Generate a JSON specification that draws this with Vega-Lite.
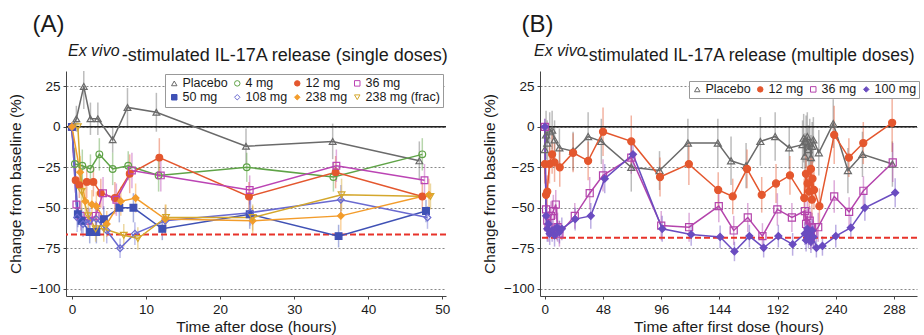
{
"$schema": "https://vega.github.io/schema/vega-lite/v6.json",
"background": "white",
"padding": {"left": 8, "right": 0, "top": 12, "bottom": 2},
"spacing": 32,
"resolve": {
  "scale": {"x": "independent", "y": "independent", "color": "independent", "stroke": "independent", "fill": "independent", "shape": "independent"},
  "legend": {"color": "independent", "stroke": "independent", "fill": "independent", "shape": "independent"},
  "axis": {"x": "independent", "y": "independent"}
},
"config": {
  "view": {"stroke": null},
  "font": "Liberation Sans",
  "title": {"font": "Liberation Sans", "fontWeight": "normal", "color": "#1a1a1a"},
  "axis": {"domainColor": "#444", "tickColor": "#444", "labelFont": "Liberation Sans", "labelFontSize": 13.5, "labelColor": "#1a1a1a", "titleFont": "Liberation Sans", "titleFontSize": 15.5, "titleFontWeight": "normal", "titleColor": "#1a1a1a", "tickSize": 3, "labelPadding": 3},
  "axisY": {"grid": true, "gridDash": [2, 2], "gridColor": "#888", "titlePadding": 6},
  "axisX": {"grid": false, "titlePadding": 4},
  "legend": {"labelFont": "Liberation Sans", "labelColor": "#1a1a1a", "gridAlign": "each"}
},
"datasets": {
  "a": [
    {"s":"Placebo","h":0,"v":0,"e":3},{"s":"Placebo","h":0.6,"v":5,"e":8},{"s":"Placebo","h":1.6,"v":25,"e":14},{"s":"Placebo","h":2.5,"v":5,"e":10},{"s":"Placebo","h":3.5,"v":5,"e":10},{"s":"Placebo","h":5.5,"v":-8,"e":8},{"s":"Placebo","h":7.5,"v":12,"e":12},{"s":"Placebo","h":11.4,"v":9,"e":12},{"s":"Placebo","h":23.5,"v":-12,"e":11},{"s":"Placebo","h":35.2,"v":-9,"e":11},{"s":"Placebo","h":46.9,"v":-21,"e":12},
    {"s":"4 mg","h":0,"v":0,"e":2},{"s":"4 mg","h":0.4,"v":-23,"e":10},{"s":"4 mg","h":1.4,"v":-24,"e":10},{"s":"4 mg","h":2.5,"v":-26,"e":9},{"s":"4 mg","h":3.7,"v":-17,"e":10},{"s":"4 mg","h":5.5,"v":-26,"e":10},{"s":"4 mg","h":7.6,"v":-24,"e":9},{"s":"4 mg","h":11.7,"v":-30,"e":10},{"s":"4 mg","h":23.6,"v":-25,"e":9},{"s":"4 mg","h":35.3,"v":-31,"e":9},{"s":"4 mg","h":47.3,"v":-17,"e":10},
    {"s":"12 mg","h":0,"v":0,"e":2},{"s":"12 mg","h":0.5,"v":-33,"e":8},{"s":"12 mg","h":1,"v":-36,"e":8},{"s":"12 mg","h":2,"v":-34,"e":10},{"s":"12 mg","h":2.9,"v":-34,"e":9},{"s":"12 mg","h":3.9,"v":-41,"e":9},{"s":"12 mg","h":5.8,"v":-44,"e":10},{"s":"12 mg","h":7.8,"v":-29,"e":12},{"s":"12 mg","h":11.8,"v":-19,"e":12},{"s":"12 mg","h":23.9,"v":-43,"e":9},{"s":"12 mg","h":35.6,"v":-28,"e":10},{"s":"12 mg","h":47.3,"v":-43,"e":9},
    {"s":"36 mg","h":0,"v":0,"e":2},{"s":"36 mg","h":0.6,"v":-48,"e":10},{"s":"36 mg","h":1.2,"v":-55,"e":9},{"s":"36 mg","h":2.2,"v":-58,"e":8},{"s":"36 mg","h":3.2,"v":-55,"e":9},{"s":"36 mg","h":4.2,"v":-41,"e":10},{"s":"36 mg","h":6,"v":-45,"e":10},{"s":"36 mg","h":8.1,"v":-27,"e":11},{"s":"36 mg","h":12,"v":-30,"e":10},{"s":"36 mg","h":24,"v":-39,"e":9},{"s":"36 mg","h":35.7,"v":-24,"e":10},{"s":"36 mg","h":47.6,"v":-33,"e":10},
    {"s":"50 mg","h":0,"v":0,"e":2},{"s":"50 mg","h":0.8,"v":-54,"e":8},{"s":"50 mg","h":1.3,"v":-58,"e":8},{"s":"50 mg","h":2.4,"v":-65,"e":7},{"s":"50 mg","h":3.3,"v":-65,"e":7},{"s":"50 mg","h":4.3,"v":-57,"e":8},{"s":"50 mg","h":6.4,"v":-50,"e":9},{"s":"50 mg","h":8.3,"v":-50,"e":9},{"s":"50 mg","h":12.2,"v":-63,"e":7},{"s":"50 mg","h":24,"v":-54,"e":9},{"s":"50 mg","h":36,"v":-67.5,"e":7},{"s":"50 mg","h":47.8,"v":-52,"e":7},
    {"s":"108 mg","h":0,"v":0,"e":2},{"s":"108 mg","h":0.7,"v":-56,"e":9},{"s":"108 mg","h":1.5,"v":-60,"e":8},{"s":"108 mg","h":2.4,"v":-58,"e":8},{"s":"108 mg","h":3.3,"v":-57,"e":8},{"s":"108 mg","h":4.7,"v":-64,"e":8},{"s":"108 mg","h":6.5,"v":-75,"e":6},{"s":"108 mg","h":8.5,"v":-66,"e":7},{"s":"108 mg","h":12.6,"v":-58,"e":8},{"s":"108 mg","h":24.1,"v":-53,"e":8},{"s":"108 mg","h":36.3,"v":-45,"e":9},{"s":"108 mg","h":48,"v":-56,"e":7},
    {"s":"238 mg","h":0,"v":0,"e":3},{"s":"238 mg","h":1.1,"v":-28,"e":10},{"s":"238 mg","h":1.8,"v":-46,"e":10},{"s":"238 mg","h":2.7,"v":-48,"e":9},{"s":"238 mg","h":3.3,"v":-49,"e":9},{"s":"238 mg","h":4.7,"v":-60,"e":8},{"s":"238 mg","h":6.6,"v":-46,"e":9},{"s":"238 mg","h":8.6,"v":-44,"e":9},{"s":"238 mg","h":12.6,"v":-57,"e":9},{"s":"238 mg","h":24.4,"v":-58,"e":9},{"s":"238 mg","h":36.3,"v":-55,"e":9},{"s":"238 mg","h":48.2,"v":-42,"e":10},
    {"s":"238 mg (frac)","h":0.8,"v":0,"e":3},{"s":"238 mg (frac)","h":1.3,"v":-40,"e":12},{"s":"238 mg (frac)","h":2.2,"v":-55,"e":10},{"s":"238 mg (frac)","h":3.2,"v":-63,"e":8},{"s":"238 mg (frac)","h":4.3,"v":-63,"e":8},{"s":"238 mg (frac)","h":7,"v":-67,"e":7},{"s":"238 mg (frac)","h":8.9,"v":-69,"e":7},{"s":"238 mg (frac)","h":12.7,"v":-56,"e":8},{"s":"238 mg (frac)","h":24.4,"v":-56,"e":8},{"s":"238 mg (frac)","h":36.4,"v":-42,"e":10},{"s":"238 mg (frac)","h":48.4,"v":-43,"e":8}
  ],
  "b": [
    {"s":"Placebo","h":0,"v":-14,"e":15},{"s":"Placebo","h":1,"v":-5,"e":15},{"s":"Placebo","h":2,"v":-10,"e":14},{"s":"Placebo","h":4,"v":-3,"e":12},{"s":"Placebo","h":6,"v":-2,"e":12},{"s":"Placebo","h":8,"v":-8,"e":12},{"s":"Placebo","h":12,"v":-13,"e":12},{"s":"Placebo","h":23.3,"v":-15,"e":12},{"s":"Placebo","h":35.7,"v":-6,"e":15},{"s":"Placebo","h":46.6,"v":-9,"e":14},{"s":"Placebo","h":71.3,"v":-25,"e":15},{"s":"Placebo","h":94.6,"v":-27,"e":12},{"s":"Placebo","h":118,"v":-10,"e":15},{"s":"Placebo","h":142.7,"v":-10,"e":15},{"s":"Placebo","h":153.6,"v":-21,"e":15},{"s":"Placebo","h":166,"v":-24,"e":14},{"s":"Placebo","h":177.8,"v":-9,"e":15},{"s":"Placebo","h":190,"v":-6,"e":15},{"s":"Placebo","h":201.6,"v":-13,"e":13},{"s":"Placebo","h":212.6,"v":-11,"e":15},{"s":"Placebo","h":213.5,"v":-7,"e":15},{"s":"Placebo","h":214.5,"v":-18,"e":14},{"s":"Placebo","h":215.5,"v":-9,"e":16},{"s":"Placebo","h":216.5,"v":-6,"e":15},{"s":"Placebo","h":217.5,"v":-14,"e":15},{"s":"Placebo","h":218.5,"v":-10,"e":15},{"s":"Placebo","h":219.5,"v":-19,"e":14},{"s":"Placebo","h":220.5,"v":-12,"e":15},{"s":"Placebo","h":221.5,"v":-8,"e":14},{"s":"Placebo","h":226,"v":-16,"e":14},{"s":"Placebo","h":237.9,"v":2,"e":15},{"s":"Placebo","h":250,"v":-27,"e":14},{"s":"Placebo","h":262,"v":-17,"e":14},{"s":"Placebo","h":286.7,"v":-23,"e":14},
    {"s":"12 mg","h":0,"v":-23,"e":12},{"s":"12 mg","h":1,"v":-42,"e":10},{"s":"12 mg","h":2,"v":-40,"e":10},{"s":"12 mg","h":3.8,"v":-23,"e":12},{"s":"12 mg","h":6,"v":-17,"e":12},{"s":"12 mg","h":8,"v":-22,"e":12},{"s":"12 mg","h":12.3,"v":-25,"e":12},{"s":"12 mg","h":23.3,"v":-16,"e":12},{"s":"12 mg","h":35.7,"v":-21,"e":12},{"s":"12 mg","h":48,"v":-3,"e":15},{"s":"12 mg","h":71.3,"v":-9,"e":16},{"s":"12 mg","h":95,"v":-31,"e":12},{"s":"12 mg","h":118.8,"v":-23,"e":13},{"s":"12 mg","h":143,"v":-39,"e":11},{"s":"12 mg","h":155,"v":-43,"e":11},{"s":"12 mg","h":166.8,"v":-26,"e":12},{"s":"12 mg","h":178.9,"v":-42,"e":11},{"s":"12 mg","h":190.7,"v":-35,"e":12},{"s":"12 mg","h":202.2,"v":-30,"e":12},{"s":"12 mg","h":214,"v":-44,"e":12},{"s":"12 mg","h":215.4,"v":-29,"e":12},{"s":"12 mg","h":216.7,"v":-35,"e":11},{"s":"12 mg","h":218,"v":-40,"e":11},{"s":"12 mg","h":219.5,"v":-26,"e":12},{"s":"12 mg","h":220.3,"v":-45,"e":11},{"s":"12 mg","h":220.8,"v":-32,"e":12},{"s":"12 mg","h":222,"v":-39,"e":12},{"s":"12 mg","h":226.5,"v":-49,"e":11},{"s":"12 mg","h":238.7,"v":-5,"e":18},{"s":"12 mg","h":250.8,"v":-19,"e":12},{"s":"12 mg","h":262.7,"v":-10,"e":13},{"s":"12 mg","h":286.5,"v":2.5,"e":18},
    {"s":"36 mg","h":0,"v":0,"e":5},{"s":"36 mg","h":1,"v":-51,"e":10},{"s":"36 mg","h":2,"v":-58,"e":10},{"s":"36 mg","h":3,"v":-62,"e":9},{"s":"36 mg","h":5,"v":-55,"e":9},{"s":"36 mg","h":7,"v":-52,"e":10},{"s":"36 mg","h":9,"v":-48,"e":9},{"s":"36 mg","h":10.5,"v":-62,"e":9},{"s":"36 mg","h":12,"v":-66,"e":8},{"s":"36 mg","h":24.7,"v":-55,"e":8},{"s":"36 mg","h":37,"v":-41,"e":10},{"s":"36 mg","h":48,"v":-30,"e":10},{"s":"36 mg","h":71.3,"v":-19,"e":10},{"s":"36 mg","h":96,"v":-61,"e":9},{"s":"36 mg","h":119,"v":-62,"e":9},{"s":"36 mg","h":143.5,"v":-49,"e":10},{"s":"36 mg","h":155.8,"v":-64,"e":9},{"s":"36 mg","h":167.4,"v":-56,"e":9},{"s":"36 mg","h":179.5,"v":-67.5,"e":8},{"s":"36 mg","h":191.8,"v":-51,"e":10},{"s":"36 mg","h":203.8,"v":-56,"e":9},{"s":"36 mg","h":214.5,"v":-52,"e":9},{"s":"36 mg","h":215.5,"v":-60,"e":9},{"s":"36 mg","h":216.5,"v":-55,"e":9},{"s":"36 mg","h":217.5,"v":-65,"e":8},{"s":"36 mg","h":218.5,"v":-58,"e":9},{"s":"36 mg","h":219.5,"v":-68,"e":8},{"s":"36 mg","h":220.5,"v":-62,"e":9},{"s":"36 mg","h":221.5,"v":-66,"e":8},{"s":"36 mg","h":225.5,"v":-62,"e":9},{"s":"36 mg","h":238.7,"v":-43,"e":10},{"s":"36 mg","h":251,"v":-52.5,"e":9},{"s":"36 mg","h":262.8,"v":-39.5,"e":9},{"s":"36 mg","h":287,"v":-22,"e":12},
    {"s":"100 mg","h":0,"v":0,"e":5},{"s":"100 mg","h":1,"v":-55,"e":9},{"s":"100 mg","h":2,"v":-63,"e":8},{"s":"100 mg","h":3,"v":-60,"e":8},{"s":"100 mg","h":4,"v":-66,"e":7},{"s":"100 mg","h":6,"v":-64,"e":7},{"s":"100 mg","h":8,"v":-67,"e":7},{"s":"100 mg","h":10,"v":-62,"e":8},{"s":"100 mg","h":12,"v":-65,"e":7},{"s":"100 mg","h":14,"v":-63,"e":7},{"s":"100 mg","h":25,"v":-57,"e":7},{"s":"100 mg","h":37.9,"v":-55,"e":8},{"s":"100 mg","h":49.4,"v":-32,"e":9},{"s":"100 mg","h":72.7,"v":-17,"e":10},{"s":"100 mg","h":96.8,"v":-63,"e":8},{"s":"100 mg","h":120.7,"v":-66.5,"e":7},{"s":"100 mg","h":144.6,"v":-68,"e":7},{"s":"100 mg","h":156.4,"v":-77,"e":6},{"s":"100 mg","h":168.7,"v":-67.5,"e":7},{"s":"100 mg","h":180.5,"v":-74.7,"e":6},{"s":"100 mg","h":192.6,"v":-67.5,"e":7},{"s":"100 mg","h":204.4,"v":-72.6,"e":7},{"s":"100 mg","h":214.5,"v":-66,"e":7},{"s":"100 mg","h":215.5,"v":-70,"e":7},{"s":"100 mg","h":216.5,"v":-63,"e":7},{"s":"100 mg","h":217.5,"v":-68,"e":7},{"s":"100 mg","h":218.5,"v":-65,"e":7},{"s":"100 mg","h":219.5,"v":-71,"e":7},{"s":"100 mg","h":220.5,"v":-64,"e":7},{"s":"100 mg","h":221.5,"v":-68,"e":7},{"s":"100 mg","h":224,"v":-74.7,"e":6},{"s":"100 mg","h":229,"v":-73.6,"e":6},{"s":"100 mg","h":240,"v":-67.5,"e":7},{"s":"100 mg","h":252.4,"v":-62.3,"e":7},{"s":"100 mg","h":264,"v":-50,"e":8},{"s":"100 mg","h":289,"v":-40.7,"e":9}
  ]
},
"hconcat": [
  {
    "title": {"text": "(A)", "anchor": "start", "fontSize": 24, "dx": 24, "dy": -2},
    "resolve": {"scale": {"color": "independent", "stroke": "independent", "fill": "independent", "shape": "independent"}, "legend": {"color": "independent", "stroke": "independent", "fill": "independent", "shape": "independent"}},
    "vconcat": [
      {
        "title": {"text": "-stimulated IL-17A release (single doses)", "anchor": "end", "fontSize": 18, "dy": 37, "dx": -2, "offset": 15},
        "resolve": {"scale": {"color": "independent", "stroke": "independent", "fill": "independent", "shape": "independent"}, "legend": {"color": "independent", "stroke": "independent", "fill": "independent", "shape": "independent"}},
        "vconcat": [
          {
            "title": {"text": "Ex vivo", "anchor": "start", "frame": "group", "fontStyle": "italic", "fontSize": 16, "dx": 2, "offset": 12.5},
            "width": 380, "height": 225,
            "layer": [
              {
                "data": {"name": "a"},
                "mark": {"type": "errorbar", "ticks": false, "clip": true, "rule": {"opacity": 0.45, "strokeWidth": 1.5}},
                "encoding": {
                  "x": {"field": "h", "type": "quantitative", "scale": {"domain": [-0.8, 50.5], "nice": false, "zero": false}, "axis": {"values": [0,5,10,15,20,25,30,35,40,45,50], "title": "Time after dose (hours)"}},
                  "y": {"field": "v", "type": "quantitative", "scale": {"domain": [-104.5, 34.5], "nice": false}, "axis": {"values": [-100,-75,-50,-25,0,25], "title": "Change from baseline (%)"}},
                  "yError": {"field": "e"},
                  "color": {"field": "s", "type": "nominal", "legend": null, "scale": {"domain": ["238 mg (frac)","238 mg","108 mg","50 mg","36 mg","12 mg","4 mg","Placebo"], "range": ["#d4a72c","#f39c2b","#6a6ad0","#3f51b5","#bb44b4","#e4572e","#5fa347","#6a6a6a"]}}
                }
              },
              {
                "data": {"values": [{"y": 0}]},
                "mark": {"type": "rule", "color": "#222222", "strokeWidth": 1.5},
                "encoding": {"y": {"field": "y", "type": "quantitative", "scale": {"domain": [-104.5, 34.5], "nice": false}}}
              },
              {
                "data": {"values": [{"y": -66.5}]},
                "mark": {"type": "rule", "color": "#e8332a", "strokeWidth": 1.8, "strokeDash": [6, 3]},
                "encoding": {"y": {"field": "y", "type": "quantitative", "scale": {"domain": [-104.5, 34.5], "nice": false}}}
              },
              {
                "data": {"name": "a"},
                "mark": {"type": "line", "strokeWidth": 1.5, "clip": true},
                "encoding": {
                  "x": {"field": "h", "type": "quantitative", "scale": {"domain": [-0.8, 50.5], "nice": false, "zero": false}},
                  "y": {"field": "v", "type": "quantitative", "scale": {"domain": [-104.5, 34.5], "nice": false}},
                  "color": {"field": "s", "type": "nominal", "legend": null}
                }
              },
              {
                "data": {"name": "a"},
                "mark": {"type": "point", "size": 45, "strokeWidth": 1.2, "opacity": 1, "clip": true},
                "encoding": {
                  "x": {"field": "h", "type": "quantitative", "scale": {"domain": [-0.8, 50.5], "nice": false, "zero": false}},
                  "y": {"field": "v", "type": "quantitative", "scale": {"domain": [-104.5, 34.5], "nice": false}},
                  "stroke": {"field": "s", "type": "nominal", "scale": {"domain": ["Placebo","4 mg","12 mg","36 mg","50 mg","108 mg","238 mg","238 mg (frac)"], "range": ["#6a6a6a","#5fa347","#e4572e","#bb44b4","#3f51b5","#6a6ad0","#f39c2b","#d4a72c"]},
                    "legend": {"title": null, "orient": "top-right", "offset": 3, "columns": 4, "direction": "horizontal", "gridAlign": "each", "strokeColor": "#999", "fillColor": "white", "padding": 3, "labelFontSize": 12.5, "symbolSize": 30, "columnPadding": 3, "rowPadding": 1, "symbolStrokeWidth": 1, "labelOffset": 2}},
                  "fill": {"field": "s", "type": "nominal", "scale": {"domain": ["Placebo","4 mg","12 mg","36 mg","50 mg","108 mg","238 mg","238 mg (frac)"], "range": ["transparent","transparent","#e4572e","transparent","#3f51b5","transparent","#f39c2b","transparent"]},
                    "legend": {"title": null, "orient": "top-right", "offset": 3, "columns": 4, "direction": "horizontal", "gridAlign": "each", "strokeColor": "#999", "fillColor": "white", "padding": 3, "labelFontSize": 12.5, "symbolSize": 30, "columnPadding": 3, "rowPadding": 1, "symbolStrokeWidth": 1, "labelOffset": 2}},
                  "shape": {"field": "s", "type": "nominal", "scale": {"domain": ["Placebo","4 mg","12 mg","36 mg","50 mg","108 mg","238 mg","238 mg (frac)"], "range": ["triangle-up","circle","circle","square","square","diamond","diamond","triangle-down"]},
                    "legend": {"title": null, "orient": "top-right", "offset": 3, "columns": 4, "direction": "horizontal", "gridAlign": "each", "strokeColor": "#999", "fillColor": "white", "padding": 3, "labelFontSize": 12.5, "symbolSize": 30, "columnPadding": 3, "rowPadding": 1, "symbolStrokeWidth": 1, "labelOffset": 2}}
                }
              }
            ]
          }
        ]
      }
    ]
  },
  {
    "title": {"text": "(B)", "anchor": "start", "fontSize": 24, "dx": 39, "dy": -2},
    "resolve": {"scale": {"color": "independent", "stroke": "independent", "fill": "independent", "shape": "independent"}, "legend": {"color": "independent", "stroke": "independent", "fill": "independent", "shape": "independent"}},
    "vconcat": [
      {
        "title": {"text": "-stimulated IL-17A release (multiple doses)", "anchor": "end", "fontSize": 17.5, "dy": 37, "dx": -5, "offset": 15},
        "resolve": {"scale": {"color": "independent", "stroke": "independent", "fill": "independent", "shape": "independent"}, "legend": {"color": "independent", "stroke": "independent", "fill": "independent", "shape": "independent"}},
        "vconcat": [
          {
            "title": {"text": "Ex vivo", "anchor": "start", "frame": "group", "fontStyle": "italic", "fontSize": 16, "dx": -6, "offset": 12.5},
            "width": 377, "height": 225,
            "layer": [
              {
                "data": {"name": "b"},
                "mark": {"type": "errorbar", "ticks": false, "clip": true, "rule": {"opacity": 0.45, "strokeWidth": 1.5}},
                "encoding": {
                  "x": {"field": "h", "type": "quantitative", "scale": {"domain": [-4, 307], "nice": false, "zero": false}, "axis": {"values": [0,48,96,144,192,240,288], "title": "Time after first dose (hours)"}},
                  "y": {"field": "v", "type": "quantitative", "scale": {"domain": [-104.5, 34.5], "nice": false}, "axis": {"values": [-100,-75,-50,-25,0,25], "title": "Change from baseline (%)"}},
                  "yError": {"field": "e"},
                  "color": {"field": "s", "type": "nominal", "legend": null, "scale": {"domain": ["100 mg","36 mg","12 mg","Placebo"], "range": ["#6a4cc0","#b444ac","#e4572e","#6a6a6a"]}}
                }
              },
              {
                "data": {"values": [{"y": 0}]},
                "mark": {"type": "rule", "color": "#222222", "strokeWidth": 1.5},
                "encoding": {"y": {"field": "y", "type": "quantitative", "scale": {"domain": [-104.5, 34.5], "nice": false}}}
              },
              {
                "data": {"values": [{"y": -68.5}]},
                "mark": {"type": "rule", "color": "#e8332a", "strokeWidth": 1.8, "strokeDash": [6, 3]},
                "encoding": {"y": {"field": "y", "type": "quantitative", "scale": {"domain": [-104.5, 34.5], "nice": false}}}
              },
              {
                "data": {"name": "b"},
                "mark": {"type": "line", "strokeWidth": 1.5, "clip": true},
                "encoding": {
                  "x": {"field": "h", "type": "quantitative", "scale": {"domain": [-4, 307], "nice": false, "zero": false}},
                  "y": {"field": "v", "type": "quantitative", "scale": {"domain": [-104.5, 34.5], "nice": false}},
                  "color": {"field": "s", "type": "nominal", "legend": null}
                }
              },
              {
                "data": {"name": "b"},
                "mark": {"type": "point", "size": 50, "strokeWidth": 1.2, "opacity": 1, "clip": true},
                "encoding": {
                  "x": {"field": "h", "type": "quantitative", "scale": {"domain": [-4, 307], "nice": false, "zero": false}},
                  "y": {"field": "v", "type": "quantitative", "scale": {"domain": [-104.5, 34.5], "nice": false}},
                  "stroke": {"field": "s", "type": "nominal", "scale": {"domain": ["Placebo","12 mg","36 mg","100 mg"], "range": ["#6a6a6a","#e4572e","#b444ac","#6a4cc0"]},
                    "legend": {"title": null, "orient": "none", "legendX": 149, "legendY": 10, "columns": 4, "direction": "horizontal", "gridAlign": "each", "strokeColor": "#999", "fillColor": "white", "padding": 2, "labelFontSize": 12.5, "symbolSize": 30, "columnPadding": 3, "symbolStrokeWidth": 1, "labelOffset": 2}},
                  "fill": {"field": "s", "type": "nominal", "scale": {"domain": ["Placebo","12 mg","36 mg","100 mg"], "range": ["transparent","#e4572e","transparent","#6a4cc0"]},
                    "legend": {"title": null, "orient": "none", "legendX": 149, "legendY": 10, "columns": 4, "direction": "horizontal", "gridAlign": "each", "strokeColor": "#999", "fillColor": "white", "padding": 2, "labelFontSize": 12.5, "symbolSize": 30, "columnPadding": 3, "symbolStrokeWidth": 1, "labelOffset": 2}},
                  "shape": {"field": "s", "type": "nominal", "scale": {"domain": ["Placebo","12 mg","36 mg","100 mg"], "range": ["triangle-up","circle","square","diamond"]},
                    "legend": {"title": null, "orient": "none", "legendX": 149, "legendY": 10, "columns": 4, "direction": "horizontal", "gridAlign": "each", "strokeColor": "#999", "fillColor": "white", "padding": 2, "labelFontSize": 12.5, "symbolSize": 30, "columnPadding": 3, "symbolStrokeWidth": 1, "labelOffset": 2}}
                }
              }
            ]
          }
        ]
      }
    ]
  }
]
}
